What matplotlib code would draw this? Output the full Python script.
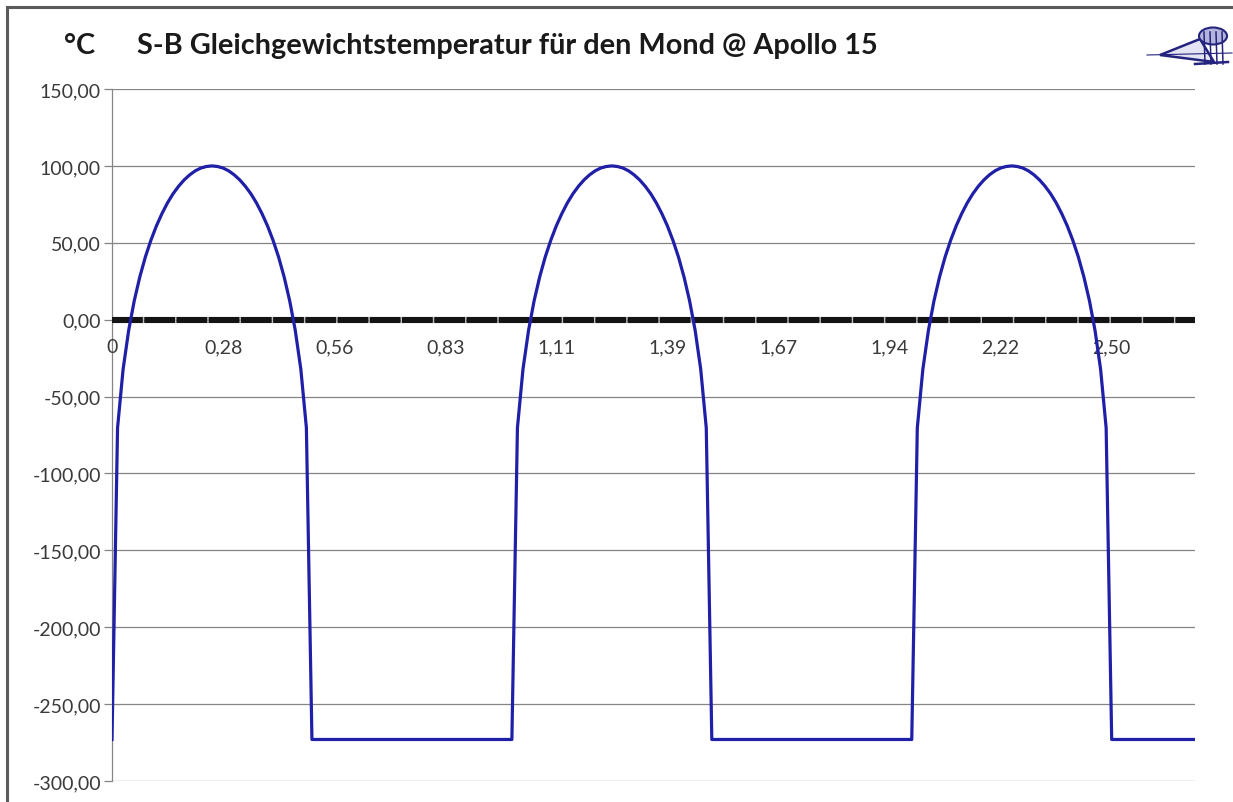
import matplotlib
matplotlib.use("Agg")
import matplotlib.pyplot as plt
from matplotlib.lines import Line2D
from matplotlib.patches import Polygon, Ellipse
import numpy as np

plt.rcParams['font.family'] = ['Lato', 'DejaVu Sans']
plt.rcParams['lines.scale_dashes'] = False

# ---- data ----
title = "S-B Gleichgewichtstemperatur für den Mond @ Apollo 15"
unit_label = "°C"
# temperature (°C) per time step during one lunar day (36 steps, 1/72 cycle each)
day_arch = [-273.0, -70.3, -32.2, -7.0, 12.2, 27.7, 40.7, 51.6, 61.0, 69.0,
            76.0, 81.9, 86.8, 90.9, 94.2, 96.8, 98.6, 99.6, 100.0, 99.6,
            98.6, 96.8, 94.2, 90.9, 86.8, 81.9, 76.0, 69.0, 61.0, 51.6,
            40.7, 27.7, 12.2, -7.0, -32.2, -70.3]
# lunar night: absolute zero
night = [-273.0] * 36
temps = day_arch + night + day_arch + night + day_arch + night[:16]

x_tick_pos = [0, 20, 40, 60, 80, 100, 120, 140, 160, 180]
x_tick_labels = ["0", "0,28", "0,56", "0,83", "1,11", "1,39", "1,67", "1,94", "2,22", "2,50"]
y_ticks = [150, 100, 50, 0, -50, -100, -150, -200, -250, -300]
y_tick_labels = ["150,00", "100,00", "50,00", "0,00", "-50,00", "-100,00",
                 "-150,00", "-200,00", "-250,00", "-300,00"]

# ---- figure ----
W, H = 1233, 803
fig = plt.figure(figsize=(W / 100, H / 100), dpi=100)
fig.patch.set_facecolor('white')

def fx(px):
    return px / W

def fy(py):
    return 1 - py / H

ax = fig.add_axes([fx(112), fy(782), fx(1195) - fx(112), fy(90) - fy(782)])
ax.set_facecolor('white')

grid_col = '#858585'
text_col = '#3a3a3a'

ax.set_xlim(0, len(temps) - 1)
ax.set_ylim(-300, 150)
ax.set_yticks(y_ticks)
ax.set_yticklabels(y_tick_labels)
ax.set_xticks([])
ax.yaxis.grid(True, color=grid_col, lw=0.9, zorder=1)
ax.set_axisbelow(True)
for s in ['top', 'right', 'bottom']:
    ax.spines[s].set_visible(False)
ax.spines['left'].set_color(grid_col)
ax.spines['left'].set_linewidth(0.9)
ax.tick_params(axis='y', length=6, width=0.9, color=grid_col,
               labelsize=14, labelcolor=text_col, pad=2)

# thick black zero axis with light gaps
ax.axhline(0, color='#141414', lw=4.4, dashes=(22.2, 1.0), gapcolor='#bdbdbd', zorder=3)

# x labels below the zero axis
for pos, lab in zip(x_tick_pos, x_tick_labels):
    ax.annotate(lab, (pos, 0), xytext=(0, -19.5), textcoords='offset points',
                ha='center', va='center', fontsize=14, color=text_col,
                annotation_clip=False)

# data line
xs = np.arange(len(temps))
ax.plot(xs, temps, color='#1f1fa8', lw=2.3, zorder=5)

# title and unit
fig.text(fx(137), fy(46), title, fontsize=20.8, fontweight='bold',
         ha='left', va='center', color='#1a1a1a')
fig.text(fx(80), fy(46), unit_label, fontsize=20.8, fontweight='bold',
         ha='center', va='center', color='#1a1a1a')

# frame (top and left visible)
fig.add_artist(Line2D([fx(7), 1.0], [fy(8), fy(8)], color='#5a5a5a', lw=2.2))
fig.add_artist(Line2D([fx(7), fx(7)], [0.0, fy(8)], color='#5a5a5a', lw=2.2))

# small logo (lander sketch) top right
logo_col = '#24247e'
def P(pts):
    return [(fx(a), fy(b)) for a, b in pts]
fig.add_artist(Line2D([fx(1147), fx(1232)], [fy(56), fy(54)], color=logo_col, lw=0.8))
fig.add_artist(Polygon(P([(1160, 56), (1200, 40), (1214, 63)]), closed=True,
                       facecolor='#e4e4f4', edgecolor=logo_col, lw=1.8))
fig.add_artist(Ellipse((fx(1213), fy(37)), fx(28), 17 / H, facecolor='#b4b4dc',
                       edgecolor=logo_col, lw=1.5))
for a in [1204, 1210, 1216, 1222]:
    fig.add_artist(Line2D([fx(a), fx(a + 1)], [fy(33), fy(65)], color=logo_col, lw=1.1))
fig.add_artist(Line2D([fx(1195), fx(1228)], [fy(65), fy(63)], color=logo_col, lw=1.8))

fig.savefig('out.png', dpi=100, facecolor='white')
